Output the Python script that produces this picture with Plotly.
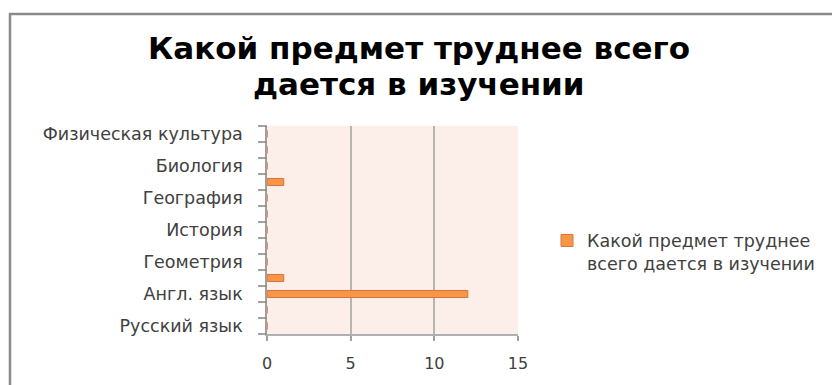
import plotly.graph_objects as go

# Subjects from bottom to top, with the number of answers for each
subjects = [
    "Русский язык", "Литература", "Англ. язык", "Алгебра", "Геометрия",
    "Физика", "История", "Обществознание", "География", "Химия",
    "Биология", "Информатика", "Физическая культура",
]
answers = [0, 0, 12, 1, 0, 0, 0, 0, 0, 1, 0, 0, 0]
# Only every other subject gets a printed label on the axis
label_shown = [True, False] * 6 + [True]
tick_text = [s if show else "" for s, show in zip(subjects, label_shown)]

series_name = "Какой предмет труднее<br>всего дается в изучении"
title_lines = ["Какой предмет труднее всего", "дается в изучении"]

W, H = 832, 385
L, R, T, B = 267, 314, 126, 48
pw, ph = W - L - R, H - T - B

def px_x(x):
    return (x - L) / pw

def px_y(y):
    return (H - B - y) / ph

fig = go.Figure()
fig.add_trace(
    go.Bar(
        x=answers,
        y=subjects,
        orientation="h",
        name=series_name,
        marker=dict(color="#F79646", line=dict(color="#D9743A", width=1)),
        showlegend=True,
    )
)

axis_font = dict(family="DejaVu Sans", size=17.5, color="#404040")
n = len(subjects)

# Tick marks on the category axis sit on the boundaries between categories
boundary_ticks = [
    dict(type="line", xref="paper", yref="paper", layer="above",
         x0=px_x(258), x1=px_x(267), y0=i / n, y1=i / n,
         line=dict(color="#8C8C8C", width=1.6))
    for i in range(n + 1)
]

frame = [
    dict(type="line", xref="paper", yref="paper",
         x0=px_x(10), x1=px_x(10), y0=px_y(400), y1=px_y(11.5),
         line=dict(color="#8A8A8A", width=2.5)),
    dict(type="line", xref="paper", yref="paper",
         x0=px_x(9), x1=px_x(850), y0=px_y(12.5), y1=px_y(12.5),
         line=dict(color="#8A8A8A", width=2.5)),
]

fig.update_layout(
    width=W,
    height=H,
    margin=dict(l=L, r=R, t=T, b=B),
    paper_bgcolor="white",
    plot_bgcolor="#FCEFEA",
    bargap=0.56,
    xaxis=dict(
        range=[0, 15],
        tickmode="array",
        tickvals=[0, 5, 10, 15],
        showgrid=True,
        gridcolor="#B8B4B0",
        gridwidth=2,
        zeroline=False,
        showline=True,
        linecolor="#B0B0B0",
        linewidth=1.5,
        ticks="outside",
        ticklen=5,
        tickwidth=1.5,
        tickcolor="#A0A0A0",
        tickfont=dict(family="DejaVu Sans", size=16, color="#404040"),
        ticklabelstandoff=9,
        fixedrange=True,
    ),
    yaxis=dict(
        type="category",
        categoryorder="array",
        categoryarray=subjects,
        range=[-0.5, n - 0.5],
        tickmode="array",
        tickvals=subjects,
        ticktext=tick_text,
        ticks="",
        showgrid=False,
        showline=True,
        linecolor="#A0A0A0",
        linewidth=1.5,
        tickfont=axis_font,
        ticklabelstandoff=19,
        fixedrange=True,
    ),
    legend=dict(
        x=px_x(547),
        y=px_y(224),
        xanchor="left",
        yanchor="top",
        valign="top",
        font=dict(family="DejaVu Sans", size=17.5, color="#404040"),
        bgcolor="rgba(0,0,0,0)",
    ),
    shapes=boundary_ticks + frame,
    annotations=[
        dict(
            text=line,
            xref="paper", yref="paper",
            x=px_x(419), y=px_y(y_mid),
            xanchor="center", yanchor="middle",
            showarrow=False,
            font=dict(family="DejaVu Sans", size=31, color="#000000", weight="bold"),
        )
        for line, y_mid in zip(title_lines, [47, 83])
    ],
)

fig.write_html("out.html")
